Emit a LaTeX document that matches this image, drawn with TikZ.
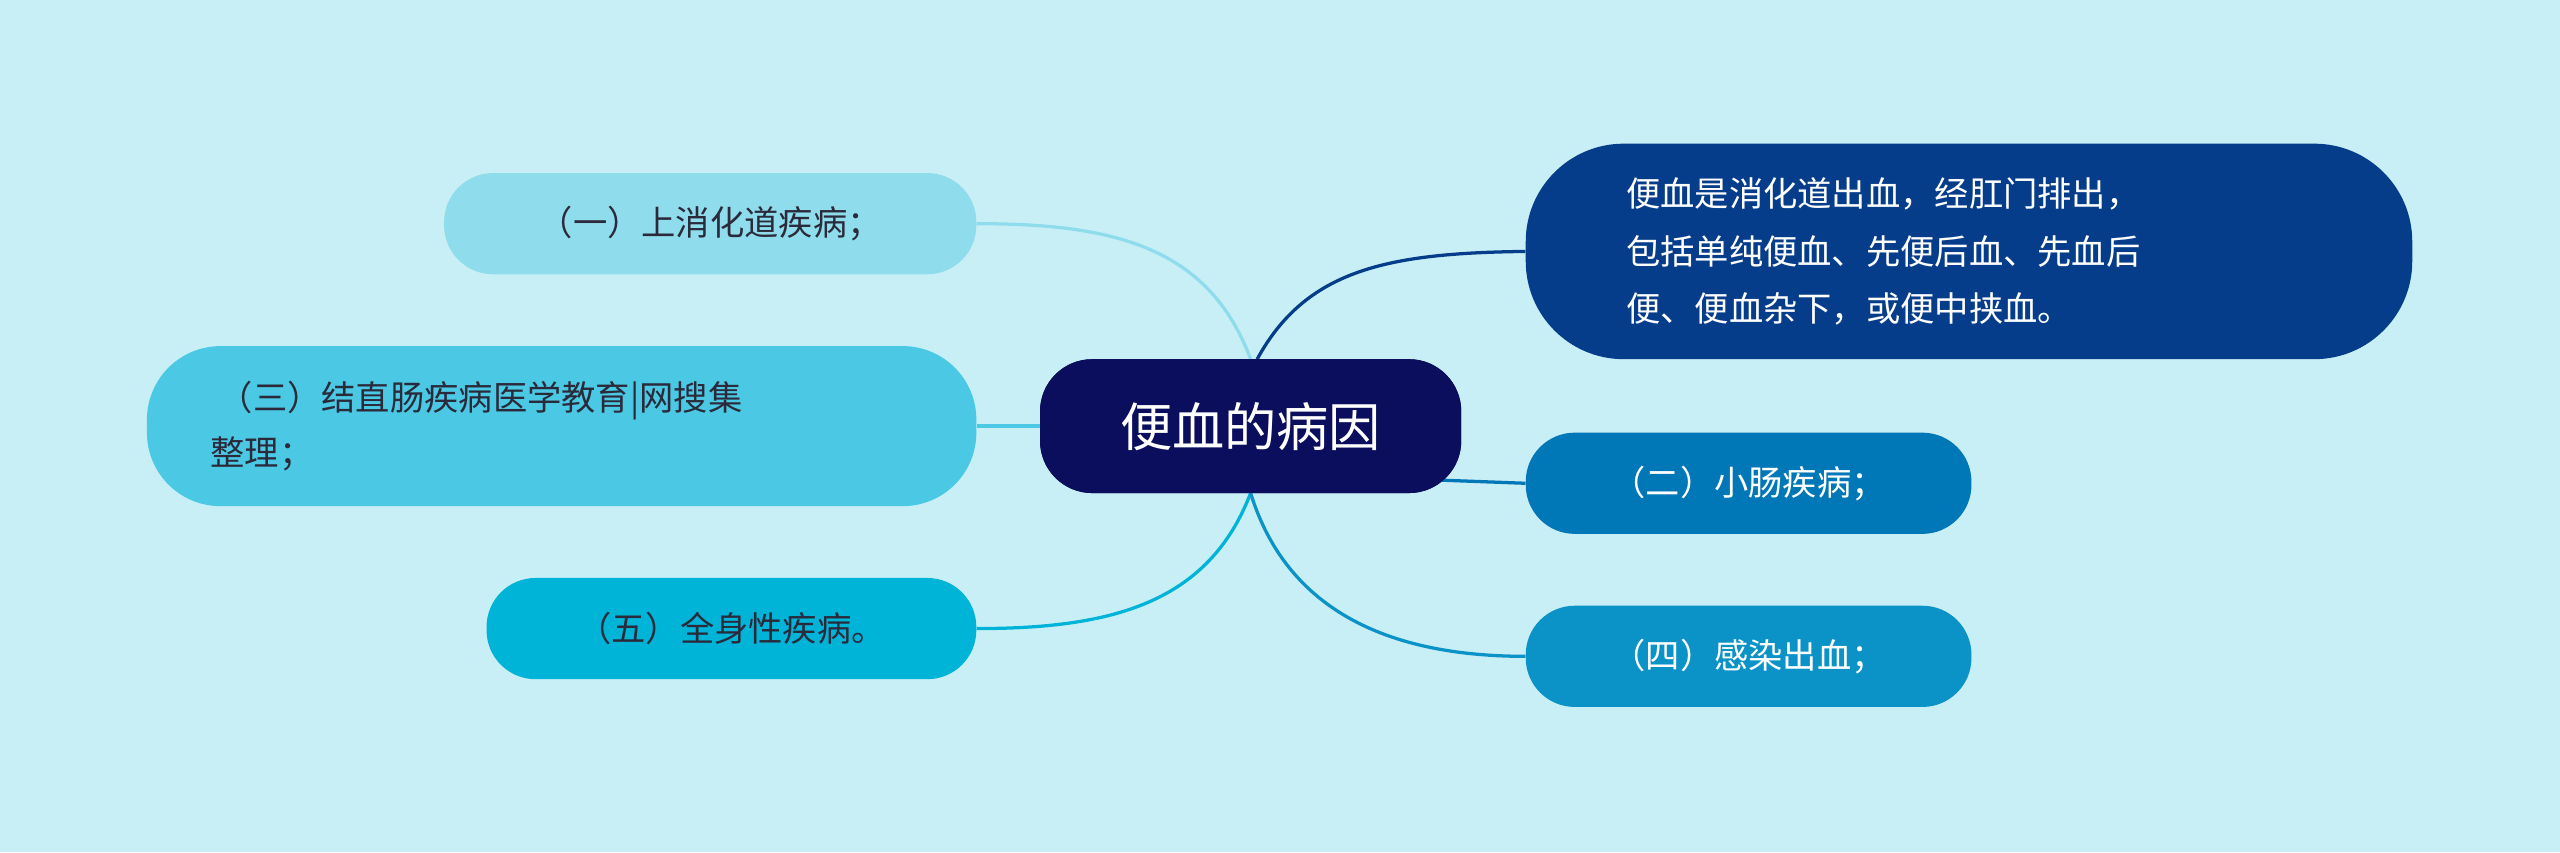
\documentclass[tikz,border=0pt]{standalone}
\usepackage{fontspec}
\newfontfamily\cjk{Noto Sans CJK SC}
\definecolor{bg}{HTML}{C9EFF6}
\definecolor{cen}{HTML}{0A0E5C}
\definecolor{ca}{HTML}{8FDCEC}
\definecolor{cb}{HTML}{4BC8E4}
\definecolor{cc}{HTML}{00B4D8}
\definecolor{cd}{HTML}{063D8A}
\definecolor{ce}{HTML}{0077B6}
\definecolor{cf}{HTML}{0B93C8}
\definecolor{dtext}{HTML}{2A2A3A}
\tikzset{box/.style={rounded corners=30pt,inner sep=0pt,font=\cjk\fontsize{21}{34}\selectfont,align=left},
 link/.style={line width=2pt},
 cbox/.style={box,fill=cen,text=white,minimum width=258pt,minimum height=82pt,rounded corners=32pt,font=\cjk\fontsize{32}{38}\selectfont}}
\begin{document}
\begin{tikzpicture}[x=1pt,y=-1pt]
\fill[bg] (0,0) rectangle (1568,522);
\useasboundingbox (0,0) rectangle (1568,522);
\node[cbox] (c) at (766,261) {便血的病因};
\node[box,fill=ca,text=dtext,minimum width=326pt,minimum height=62pt] (a) at (435,137) {（一）上消化道疾病；};
\node[box,fill=cb,text=dtext,minimum width=508pt,minimum height=98pt,rounded corners=45pt,text width=430pt] (b) at (344,261) {\hspace*{5pt}（三）结直肠疾病医学教育|网搜集\\整理；};
\node[box,fill=cc,text=dtext,minimum width=300pt,minimum height=62pt] (d) at (448,385) {（五）全身性疾病。};
\node[box,fill=cd,text=white,minimum width=543pt,minimum height=132pt,rounded corners=60pt,text width=420pt,font=\cjk\fontsize{21}{35}\selectfont] (e) at (1206,154) {便血是消化道出血，经肛门排出，\\包括单纯便血、先便后血、先血后\\便、便血杂下，或便中挟血。};
\node[box,fill=ce,text=white,minimum width=273pt,minimum height=62pt] (f) at (1071,296) {（二）小肠疾病；};
\node[box,fill=cf,text=white,minimum width=273pt,minimum height=62pt] (g) at (1071,402) {（四）感染出血；};
\draw[link,ca] (766,220) .. controls (740,150) and (680,137) .. (a.east);
\draw[link,cb] (c.west) -- (b.east);
\draw[link,cc] (766,302) .. controls (740,370) and (680,385) .. (d.east);
\draw[link,cd] (770,220) .. controls (800,165) and (850,155) .. (e.west);
\draw[link,ce] (880,294) -- (f.west);
\draw[link,cf] (766,302) .. controls (790,380) and (860,402) .. (g.west);
\node[cbox] at (766,261) {便血的病因};
\end{tikzpicture}
\end{document}
